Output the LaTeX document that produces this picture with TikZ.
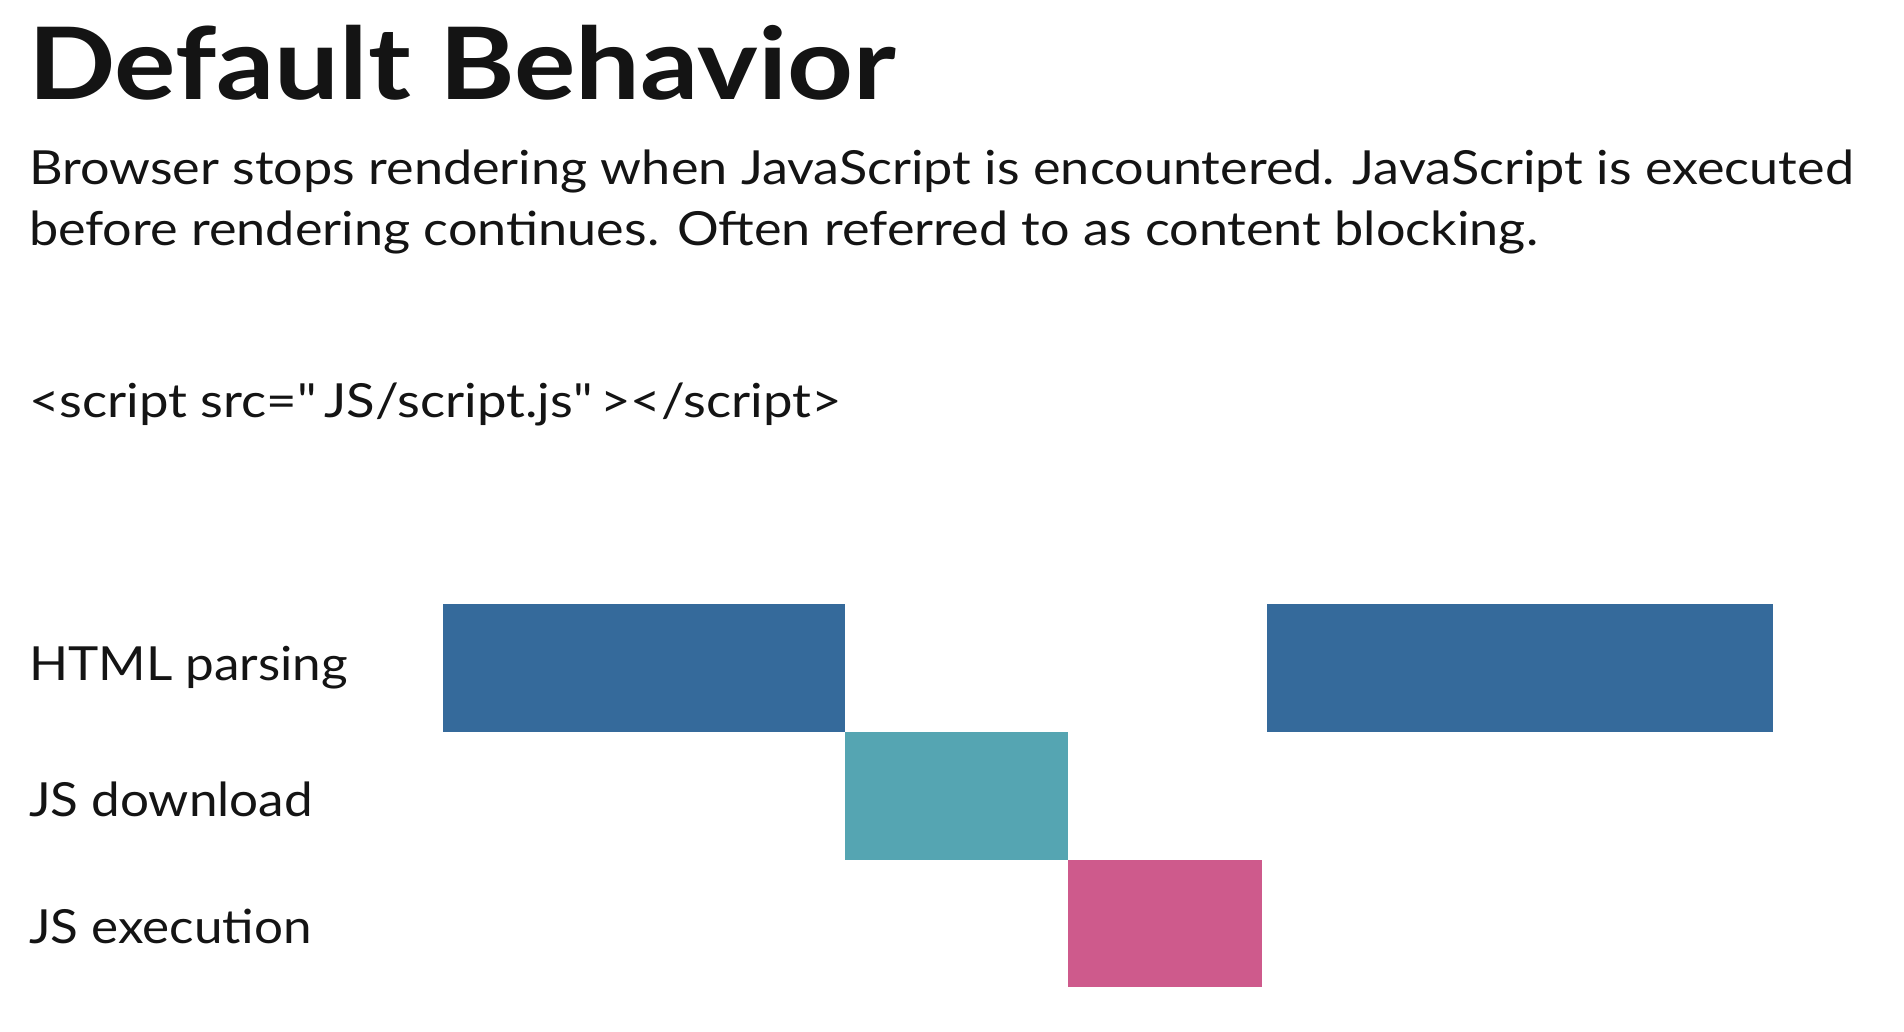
\documentclass[tikz,border=0pt]{standalone}
\usepackage{fontspec}
\setmainfont{Lato}
\newfontfamily\bodyfont[FakeStretch=1.11]{Lato}
\newfontfamily\labelfont[FakeStretch=1.09]{Lato}
\newfontfamily\codefont[FakeStretch=1.12]{Lato}
\newfontfamily\titlefont[FakeStretch=1.15]{Lato}
\definecolor{htmlblue}{RGB}{53,106,155}
\definecolor{dlteal}{RGB}{85,165,178}
\definecolor{expink}{RGB}{206,90,140}
\definecolor{inktext}{RGB}{20,20,20}
\tikzset{
  bar/.style={draw=none, inner sep=0pt, outer sep=0pt, anchor=north west},
  txt/.style={anchor=base west, inner sep=0pt, outer sep=0pt, text=inktext},
  body/.style={txt, font=\bodyfont\fontsize{47}{47}\selectfont},
  lbl/.style={txt, font=\labelfont\fontsize{47}{47}\selectfont},
  code/.style={txt, font=\codefont\fontsize{47}{47}\selectfont},
  titletext/.style={txt, font=\titlefont\fontsize{100}{100}\selectfont\bfseries}
}
\begin{document}
\begin{tikzpicture}[x=1pt,y=-1pt]
\useasboundingbox (0,0) rectangle (1904,1032);
\fill[white] (0,0) rectangle (1904,1032);
\node[titletext] (title) at (28,100) {Default Behavior};
\node[body] (line1) at (29,185) {Browser stops rendering when JavaScript is encountered. JavaScript is executed};
\node[body] (line2) at (29,246) {before rendering continues. Often referred to as content blocking.};
\node[code] (code) at (29,417) {<script src=\symbol{34}\,JS/script.js\symbol{34}\,></script>};
\node[lbl] (lhtml) at (29,680) {HTML parsing};
\node[lbl] (ldl) at (29,816) {JS download};
\node[lbl] (lex) at (29,943) {JS execution};
\node[bar, fill=htmlblue, minimum width=402pt, minimum height=128pt] (html1) at (443,604) {};
\node[bar, fill=dlteal, minimum width=223pt, minimum height=128pt] (dl) at (845,732) {};
\node[bar, fill=expink, minimum width=194pt, minimum height=127pt] (ex) at (1068,860) {};
\node[bar, fill=htmlblue, minimum width=506pt, minimum height=128pt] (html2) at (1267,604) {};
\end{tikzpicture}
\end{document}
